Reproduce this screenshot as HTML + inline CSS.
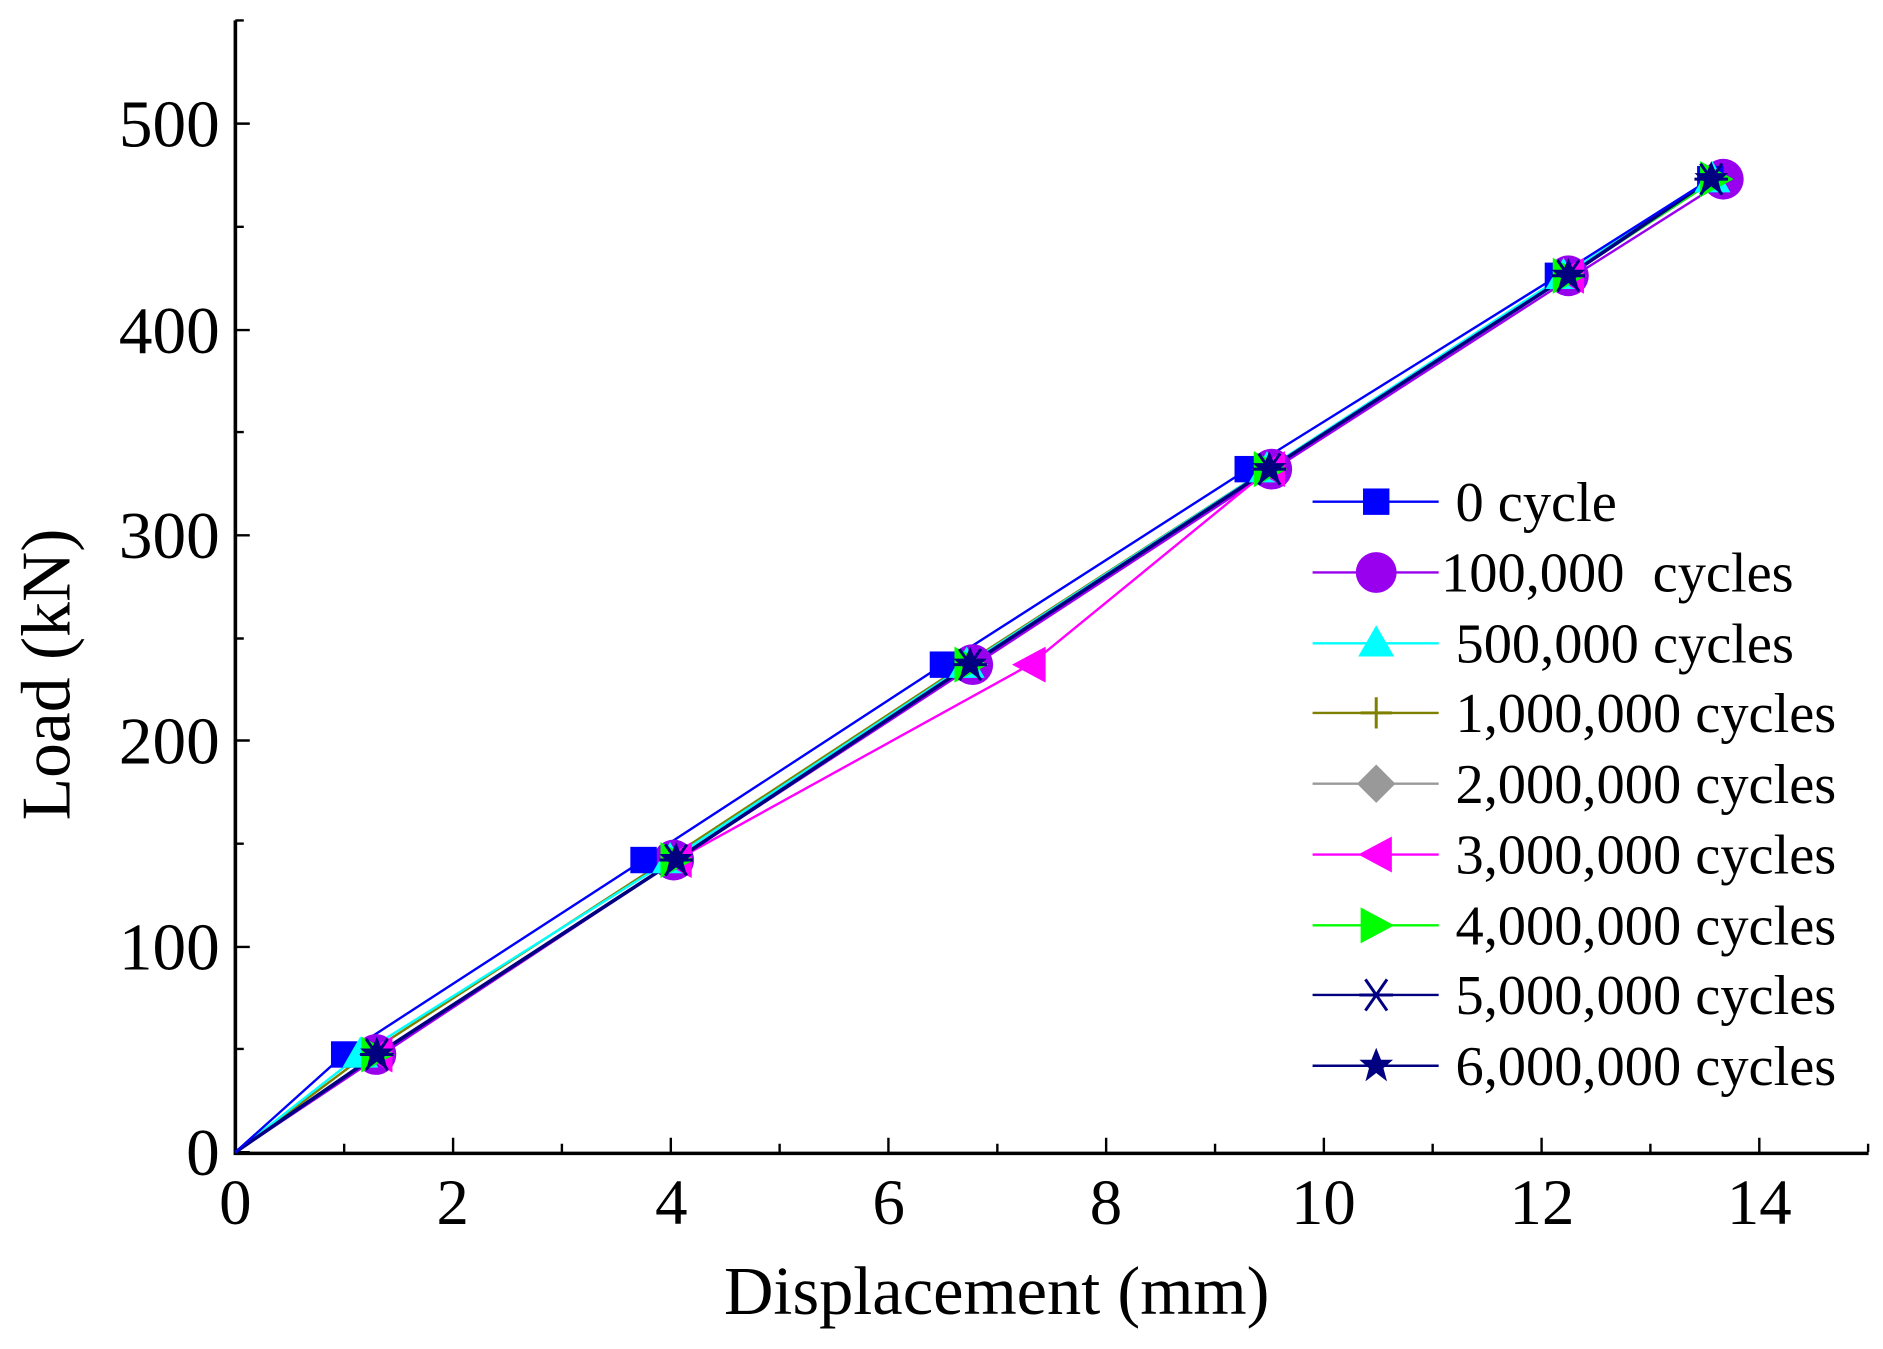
<!DOCTYPE html>
<html><head><meta charset="utf-8"><style>
html,body{margin:0;padding:0;background:#fff;}
svg{display:block;}
text{font-family:"Liberation Serif",serif;fill:#000;}
</style></head><body>
<svg width="1883" height="1349" viewBox="0 0 1568 1124" preserveAspectRatio="none" xmlns="http://www.w3.org/2000/svg">
<defs>
<rect id="sq" x="-11" y="-11" width="22" height="22" fill="#0000ff"/>
<circle id="ci" r="17" fill="#9900ee"/>
<polygon id="tr" points="0,-15 15,11 -15,11" fill="#00ffff"/>
<path id="pl" d="M-13,0H13M0,-13V13" stroke="#808000" stroke-width="2.5"/>
<polygon id="di" points="0,-16 16,0 0,16 -16,0" fill="#999999"/>
<polygon id="lt" points="-15,0 13,-15 13,15" fill="#ff00ff"/>
<polygon id="rt" points="15,0 -13,-15 -13,15" fill="#00ff00"/>
<path id="as" d="M-14,0H14M-9,-13L9,13M9,-13L-9,13" stroke="#000080" stroke-width="2.5"/>
<polygon id="st" points="0,-15 4,-5 14,-5 6,2 9,13 0,6 -9,13 -6,2 -14,-5 -4,-5" fill="#000080"/>
</defs>
<g stroke="#000" stroke-width="3" fill="none">
<path d="M196,17V961H1556"/>
</g>
<g stroke="#000" stroke-width="2">
<path d="M196,960h12M196,874h7M196,789h12M196,703h7M196,617h12M196,532h7M196,446h12M196,360h7M196,275h12M196,189h7M196,103h12M196,17h7"/>
<path d="M286.6,960v-7M377.3,960v-12M467.9,960v-7M558.6,960v-12M649.2,960v-7M739.8,960v-12M830.5,960v-7M921.1,960v-12M1011.8,960v-7M1102.4,960v-12M1193,960v-7M1283.7,960v-12M1374.3,960v-7M1465,960v-12M1555.6,960v-7"/>
</g>
<g font-size="56" text-anchor="end">
<text x="183" y="979">0</text><text x="183" y="808">100</text><text x="183" y="636">200</text>
<text x="183" y="465">300</text><text x="183" y="294">400</text><text x="183" y="122">500</text>
</g>
<g font-size="54" text-anchor="middle">
<text x="196" y="1020">0</text><text x="377" y="1020">2</text><text x="559" y="1020">4</text>
<text x="740" y="1020">6</text><text x="921" y="1020">8</text><text x="1102" y="1020">10</text>
<text x="1284" y="1020">12</text><text x="1465" y="1020">14</text>
</g>
<text x="830" y="1095" font-size="57" text-anchor="middle">Displacement (mm)</text>
<text transform="translate(58,562) rotate(-90)" font-size="58" text-anchor="middle">Load (kN)</text>
<g fill="none" stroke-width="2">
<polyline stroke="#808000" points="196,960 305,878.6 555,716.6 803,553.8 1055,390.9 1304,229.8 1428,149.3"/>
<polyline stroke="#00ffff" points="196,960 300,878.6 558,716.6 805,553.8 1055,390.9 1302,229.8 1426,149.3"/>
<polyline stroke="#999999" points="196,960 313.8,878.6 563,716.6 807.8,553.8 1057,390.9 1306,229.8 1428.7,149.3"/>
<polyline stroke="#9900ee" points="196,960 318,878.6 563,716.6 812,553.8 1061,390.9 1311,229.8 1437.8,149.3"/>
<polyline stroke="#ff00ff" points="196,960 313.8,878.6 563,716.6 857.7,553.8 1057,390.9 1306,229.8 1428.7,149.3"/>
<polyline stroke="#00ff00" points="196,960 313.8,878.6 563,716.6 807.8,553.8 1057,390.9 1306,229.8 1428.7,149.3"/>
<polyline stroke="#000080" stroke-width="3" points="196,960 313.8,878.6 563,716.6 807.8,553.8 1057,390.9 1306,229.8 1425,149.3"/>
<polyline stroke="#0000ff" points="196,960 286.6,878.6 535.9,716.6 785.2,553.8 1039,390.9 1297.3,229.8 1424.2,149.3"/>
</g>
<g>
<use href="#ci" x="313" y="878.6"/><use href="#ci" x="561" y="716.6"/><use href="#ci" x="810" y="553.8"/><use href="#ci" x="1059" y="390.9"/><use href="#ci" x="1306" y="229.8"/><use href="#ci" x="1435" y="149.3"/>
<use href="#sq" x="286.6" y="878.6"/><use href="#sq" x="535.9" y="716.6"/><use href="#sq" x="785.2" y="553.8"/><use href="#sq" x="1039" y="390.9"/><use href="#sq" x="1297.3" y="229.8"/><use href="#sq" x="1424.2" y="149.3"/>
<use href="#tr" x="300" y="878.6"/><use href="#tr" x="558" y="716.6"/><use href="#tr" x="805" y="553.8"/><use href="#tr" x="1055" y="390.9"/><use href="#tr" x="1302" y="229.8"/><use href="#tr" x="1426" y="149.3"/>
<use href="#lt" x="313.8" y="878.6"/><use href="#lt" x="563" y="716.6"/><use href="#lt" x="857.7" y="553.8"/><use href="#lt" x="1057" y="390.9"/><use href="#lt" x="1306" y="229.8"/>
<use href="#rt" x="313.8" y="878.6"/><use href="#rt" x="563" y="716.6"/><use href="#rt" x="807.8" y="553.8"/><use href="#rt" x="1057" y="390.9"/><use href="#rt" x="1306" y="229.8"/><use href="#rt" x="1428.7" y="149.3"/>
<use href="#as" x="313.8" y="878.6"/><use href="#as" x="563" y="716.6"/><use href="#as" x="807.8" y="553.8"/><use href="#as" x="1057" y="390.9"/><use href="#as" x="1306" y="229.8"/><use href="#as" x="1425" y="149.3"/>
<use href="#st" x="313.8" y="878.6"/><use href="#st" x="563" y="716.6"/><use href="#st" x="807.8" y="553.8"/><use href="#st" x="1057" y="390.9"/><use href="#st" x="1306" y="229.8"/><use href="#st" x="1425" y="149.3"/>
</g>
<g stroke-width="2">
<line x1="1093" x2="1198" y1="418" y2="418" stroke="#0000ff"/>
<line x1="1093" x2="1198" y1="477" y2="477" stroke="#9900ee"/>
<line x1="1093" x2="1198" y1="536" y2="536" stroke="#00ffff"/>
<line x1="1093" x2="1198" y1="594" y2="594" stroke="#808000"/>
<line x1="1093" x2="1198" y1="653" y2="653" stroke="#999999"/>
<line x1="1093" x2="1198" y1="712" y2="712" stroke="#ff00ff"/>
<line x1="1093" x2="1198" y1="771" y2="771" stroke="#00ff00"/>
<line x1="1093" x2="1198" y1="829" y2="829" stroke="#000080"/>
<line x1="1093" x2="1198" y1="888" y2="888" stroke="#000080"/>
</g>
<use href="#sq" x="1146" y="418"/><use href="#ci" x="1146" y="477"/><use href="#tr" x="1146" y="536"/>
<use href="#pl" x="1146" y="594"/><use href="#di" x="1146" y="653"/><use href="#lt" x="1146" y="712"/>
<use href="#rt" x="1146" y="771"/><use href="#as" x="1146" y="829"/><use href="#st" x="1146" y="888"/>
<g font-size="47">
<text x="1212" y="434">0 cycle</text>
<text x="1200" y="493" xml:space="preserve">100,000  cycles</text>
<text x="1212" y="552">500,000 cycles</text>
<text x="1212" y="610">1,000,000 cycles</text>
<text x="1212" y="669">2,000,000 cycles</text>
<text x="1212" y="728">3,000,000 cycles</text>
<text x="1212" y="787">4,000,000 cycles</text>
<text x="1212" y="845">5,000,000 cycles</text>
<text x="1212" y="904">6,000,000 cycles</text>
</g>
</svg>
</body></html>
